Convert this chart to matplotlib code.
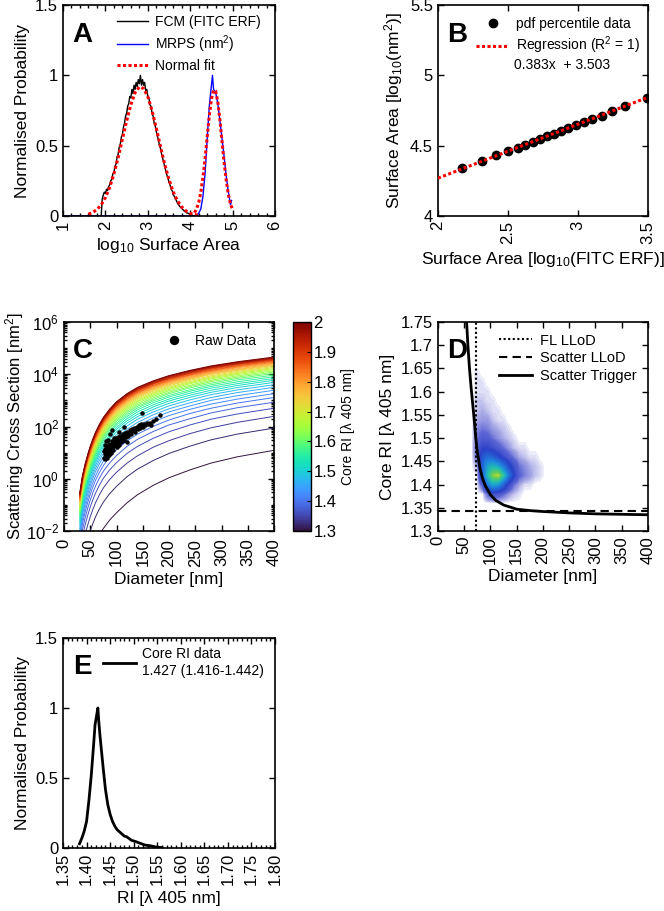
import numpy as np
import matplotlib
matplotlib.use('Agg')
from matplotlib import pyplot as plt
from matplotlib import colors, ticker

plt.rcParams['font.family'] = ['Liberation Sans', 'DejaVu Sans']
plt.rcParams['mathtext.fontset'] = 'custom'
plt.rcParams['mathtext.rm'] = 'Liberation Sans'
plt.rcParams['mathtext.it'] = 'Liberation Sans:italic'
plt.rcParams['mathtext.bf'] = 'Liberation Sans:bold'
plt.rcParams['mathtext.default'] = 'regular'

# ---- panel A : surface area histograms ----
fcm_x = [1.0, 1.9, 1.925, 1.95, 1.975, 2.0, 2.025, 2.05, 2.075, 2.1, 2.125, 2.15, 2.175, 2.2, 2.225,
         2.25, 2.275, 2.3, 2.325, 2.35, 2.375, 2.4, 2.425, 2.45, 2.475, 2.5, 2.525, 2.55, 2.575, 2.6,
         2.625, 2.65, 2.675, 2.7, 2.725, 2.75, 2.775, 2.8, 2.825, 2.85, 2.875, 2.9, 2.925, 2.95, 2.975,
         3.0, 3.025, 3.05, 3.075, 3.1, 3.125, 3.15, 3.175, 3.2, 3.225, 3.25, 3.275, 3.3, 3.325, 3.35,
         3.375, 3.4, 3.425, 3.45, 3.475, 3.5, 3.525, 3.55, 3.575, 3.6, 3.625, 3.65, 3.675, 3.7, 3.725,
         3.75, 3.775, 3.8, 3.825, 3.85, 3.875, 3.9, 3.925, 3.95, 3.975, 4.0, 4.025, 4.05, 4.075, 4.1]
fcm_y = [0.0, 0.0, 0.12, 0.15, 0.17, 0.16, 0.19, 0.18, 0.21, 0.22, 0.25, 0.26, 0.30, 0.31, 0.35,
         0.37, 0.42, 0.44, 0.49, 0.51, 0.56, 0.58, 0.63, 0.66, 0.71, 0.73, 0.78, 0.80, 0.85, 0.84,
         0.90, 0.87, 0.93, 0.90, 0.95, 0.92, 0.97, 0.94, 1.00, 0.93, 0.97, 0.93, 0.95, 0.89, 0.90,
         0.85, 0.84, 0.79, 0.78, 0.73, 0.71, 0.66, 0.64, 0.60, 0.57, 0.54, 0.50, 0.48, 0.44, 0.41,
         0.38, 0.35, 0.32, 0.29, 0.27, 0.24, 0.22, 0.19, 0.18, 0.15, 0.14, 0.12, 0.11, 0.09, 0.08,
         0.07, 0.06, 0.055, 0.045, 0.04, 0.03, 0.03, 0.02, 0.02, 0.015, 0.01, 0.008, 0.005, 0.0, 0.0]
mrps_x = [1.0, 4.15, 4.2, 4.25, 4.3, 4.35, 4.4, 4.45, 4.5, 4.525, 4.55, 4.6, 4.65, 4.7, 4.75, 4.8,
          4.85, 4.9, 4.95, 4.975]
mrps_y = [0.0, 0.0, 0.02, 0.05, 0.14, 0.30, 0.55, 0.78, 0.93, 1.0, 0.90, 0.88, 0.80, 0.68, 0.55,
          0.42, 0.28, 0.17, 0.08, 0.11]
fit1_x = [1.6, 1.7, 1.8, 1.9, 2.0, 2.1, 2.2, 2.3, 2.4, 2.5, 2.6, 2.7, 2.8, 2.9, 3.0, 3.1, 3.2,
          3.3, 3.4, 3.5, 3.6, 3.7, 3.8, 3.9, 4.0, 4.1, 4.2]
fit1_y = [0.013, 0.025, 0.046, 0.079, 0.131, 0.203, 0.299, 0.415, 0.545, 0.676, 0.792, 0.877,
          0.918, 0.907, 0.848, 0.748, 0.624, 0.492, 0.366, 0.258, 0.171, 0.108, 0.064, 0.036,
          0.019, 0.010, 0.005]
fit2_x = [4.1, 4.15, 4.2, 4.25, 4.3, 4.35, 4.4, 4.45, 4.5, 4.55, 4.6, 4.65, 4.7, 4.75, 4.8, 4.85,
          4.9, 4.95, 5.0]
fit2_y = [0.024, 0.050, 0.096, 0.169, 0.274, 0.408, 0.561, 0.711, 0.831, 0.894, 0.887, 0.811,
          0.683, 0.530, 0.379, 0.250, 0.152, 0.085, 0.044]

# ---- panel B : percentile regression ----
pct_x = [2.174, 2.316, 2.411, 2.499, 2.568, 2.625, 2.677, 2.730, 2.780, 2.827, 2.880, 2.930,
         2.985, 3.042, 3.101, 3.168, 3.243, 3.338, 3.493]
pct_y = [4.339, 4.393, 4.431, 4.462, 4.486, 4.507, 4.528, 4.547, 4.566, 4.583, 4.604, 4.626,
         4.647, 4.668, 4.690, 4.713, 4.746, 4.782, 4.836]
reg_x = [2.0, 3.5]
reg_y = [4.269, 4.844]

# ---- panel C : scattering cross section model (log10 nm^2), one row per core RI ----
curve_diam = [30, 35, 40, 45, 50, 55, 60, 67, 75, 87, 100, 120, 140, 170, 200, 240, 280, 330, 400]
curve_ri = [1.30, 1.32, 1.34, 1.36, 1.38, 1.40, 1.42, 1.44, 1.46, 1.48, 1.50, 1.52, 1.54, 1.56,
            1.58, 1.60, 1.62, 1.64, 1.66, 1.68, 1.70, 1.72, 1.74, 1.76, 1.78, 1.80, 1.82, 1.84,
            1.86, 1.88, 1.90, 1.92, 1.94, 1.96, 1.98, 2.00]
curve_log_sigma = [
    [-4.80, -4.15, -3.70, -3.33, -3.00, -2.72, -2.47, -2.18, -1.90, -1.58, -1.30, -0.92, -0.61, -0.25, 0.04, 0.34, 0.60, 0.84, 1.09],
    [-3.79, -3.14, -2.69, -2.32, -1.99, -1.71, -1.46, -1.17, -0.89, -0.57, -0.29, 0.08, 0.37, 0.70, 0.97, 1.25, 1.49, 1.71, 1.94],
    [-3.25, -2.60, -2.15, -1.78, -1.45, -1.17, -0.92, -0.63, -0.35, -0.03, 0.25, 0.60, 0.88, 1.21, 1.46, 1.73, 1.95, 2.16, 2.39],
    [-2.88, -2.23, -1.78, -1.41, -1.08, -0.80, -0.55, -0.26, 0.02, 0.34, 0.62, 0.97, 1.24, 1.55, 1.80, 2.06, 2.28, 2.48, 2.70],
    [-2.61, -1.96, -1.51, -1.14, -0.81, -0.53, -0.28, 0.01, 0.29, 0.61, 0.89, 1.24, 1.51, 1.81, 2.06, 2.30, 2.52, 2.72, 2.93],
    [-2.39, -1.74, -1.29, -0.92, -0.59, -0.31, -0.06, 0.23, 0.51, 0.83, 1.11, 1.45, 1.71, 2.01, 2.25, 2.50, 2.70, 2.90, 3.11],
    [-2.22, -1.57, -1.12, -0.75, -0.42, -0.14, 0.11, 0.40, 0.68, 1.00, 1.28, 1.62, 1.89, 2.18, 2.42, 2.66, 2.86, 3.05, 3.26],
    [-2.06, -1.41, -0.96, -0.59, -0.26, 0.02, 0.27, 0.56, 0.84, 1.16, 1.44, 1.77, 2.04, 2.33, 2.56, 2.79, 3.00, 3.18, 3.39],
    [-1.93, -1.28, -0.83, -0.46, -0.13, 0.15, 0.40, 0.69, 0.97, 1.29, 1.57, 1.90, 2.16, 2.45, 2.68, 2.91, 3.11, 3.30, 3.50],
    [-1.81, -1.16, -0.71, -0.34, -0.01, 0.27, 0.52, 0.81, 1.09, 1.41, 1.69, 2.02, 2.28, 2.56, 2.79, 3.02, 3.22, 3.40, 3.60],
    [-1.70, -1.05, -0.60, -0.23, 0.10, 0.38, 0.63, 0.92, 1.20, 1.52, 1.80, 2.13, 2.38, 2.66, 2.89, 3.12, 3.31, 3.49, 3.69],
    [-1.61, -0.96, -0.51, -0.14, 0.19, 0.47, 0.72, 1.01, 1.29, 1.61, 1.89, 2.22, 2.47, 2.75, 2.98, 3.20, 3.39, 3.57, 3.77],
    [-1.53, -0.88, -0.43, -0.06, 0.27, 0.55, 0.80, 1.09, 1.37, 1.69, 1.97, 2.30, 2.56, 2.83, 3.05, 3.28, 3.47, 3.64, 3.84],
    [-1.44, -0.79, -0.34, 0.03, 0.36, 0.64, 0.89, 1.18, 1.46, 1.78, 2.06, 2.38, 2.64, 2.91, 3.13, 3.35, 3.54, 3.71, 3.91],
    [-1.37, -0.72, -0.27, 0.10, 0.43, 0.71, 0.96, 1.25, 1.53, 1.85, 2.13, 2.45, 2.71, 2.98, 3.19, 3.41, 3.60, 3.78, 3.97],
    [-1.30, -0.65, -0.20, 0.17, 0.50, 0.78, 1.03, 1.32, 1.60, 1.92, 2.20, 2.52, 2.77, 3.04, 3.26, 3.48, 3.66, 3.84, 4.03],
    [-1.24, -0.59, -0.14, 0.23, 0.56, 0.84, 1.09, 1.38, 1.66, 1.98, 2.26, 2.58, 2.83, 3.10, 3.31, 3.53, 3.72, 3.89, 4.08],
    [-1.18, -0.53, -0.08, 0.29, 0.62, 0.90, 1.15, 1.44, 1.72, 2.04, 2.32, 2.64, 2.89, 3.16, 3.37, 3.58, 3.77, 3.94, 4.13],
    [-1.12, -0.47, -0.02, 0.35, 0.68, 0.96, 1.21, 1.50, 1.78, 2.10, 2.38, 2.70, 2.95, 3.21, 3.42, 3.64, 3.82, 3.99, 4.18],
    [-1.07, -0.42, 0.03, 0.40, 0.73, 1.01, 1.26, 1.55, 1.83, 2.15, 2.43, 2.75, 2.99, 3.26, 3.47, 3.68, 3.86, 4.03, 4.22],
    [-1.03, -0.38, 0.07, 0.44, 0.77, 1.05, 1.30, 1.59, 1.87, 2.19, 2.47, 2.79, 3.04, 3.30, 3.51, 3.72, 3.90, 4.07, 4.26],
    [-0.98, -0.33, 0.12, 0.49, 0.82, 1.10, 1.35, 1.64, 1.92, 2.24, 2.52, 2.84, 3.09, 3.35, 3.56, 3.77, 3.94, 4.11, 4.30],
    [-0.93, -0.28, 0.17, 0.54, 0.87, 1.15, 1.40, 1.69, 1.97, 2.29, 2.57, 2.89, 3.13, 3.39, 3.60, 3.81, 3.99, 4.15, 4.34],
    [-0.90, -0.25, 0.20, 0.57, 0.90, 1.18, 1.43, 1.72, 2.00, 2.32, 2.60, 2.92, 3.17, 3.43, 3.63, 3.84, 4.02, 4.18, 4.37],
    [-0.86, -0.21, 0.24, 0.61, 0.94, 1.22, 1.47, 1.76, 2.04, 2.36, 2.64, 2.96, 3.20, 3.46, 3.67, 3.87, 4.05, 4.21, 4.40],
    [-0.82, -0.17, 0.28, 0.65, 0.98, 1.26, 1.51, 1.80, 2.08, 2.40, 2.68, 2.99, 3.24, 3.49, 3.70, 3.90, 4.08, 4.25, 4.43],
    [-0.79, -0.14, 0.31, 0.68, 1.01, 1.29, 1.54, 1.83, 2.11, 2.43, 2.71, 3.03, 3.27, 3.53, 3.73, 3.94, 4.11, 4.28, 4.46],
    [-0.75, -0.10, 0.35, 0.72, 1.05, 1.33, 1.58, 1.87, 2.15, 2.47, 2.75, 3.06, 3.30, 3.56, 3.76, 3.97, 4.14, 4.31, 4.49],
    [-0.73, -0.08, 0.37, 0.74, 1.07, 1.35, 1.60, 1.89, 2.17, 2.49, 2.77, 3.08, 3.33, 3.58, 3.79, 3.99, 4.16, 4.33, 4.51],
    [-0.69, -0.04, 0.41, 0.78, 1.11, 1.39, 1.64, 1.93, 2.21, 2.53, 2.81, 3.12, 3.36, 3.62, 3.82, 4.02, 4.19, 4.36, 4.54],
    [-0.67, -0.02, 0.43, 0.80, 1.13, 1.41, 1.66, 1.95, 2.23, 2.55, 2.83, 3.14, 3.38, 3.64, 3.84, 4.04, 4.22, 4.38, 4.56],
    [-0.65, 0.00, 0.45, 0.82, 1.15, 1.43, 1.68, 1.97, 2.25, 2.57, 2.85, 3.17, 3.41, 3.66, 3.86, 4.06, 4.24, 4.40, 4.58],
    [-0.62, 0.03, 0.48, 0.85, 1.18, 1.46, 1.71, 2.00, 2.28, 2.60, 2.88, 3.19, 3.43, 3.68, 3.88, 4.09, 4.26, 4.42, 4.60],
    [-0.60, 0.05, 0.50, 0.87, 1.20, 1.48, 1.73, 2.02, 2.30, 2.62, 2.90, 3.21, 3.45, 3.71, 3.91, 4.11, 4.28, 4.44, 4.62],
    [-0.57, 0.08, 0.53, 0.90, 1.23, 1.51, 1.76, 2.05, 2.33, 2.65, 2.93, 3.24, 3.48, 3.73, 3.93, 4.13, 4.30, 4.46, 4.64],
    [-0.55, 0.10, 0.55, 0.92, 1.25, 1.53, 1.78, 2.07, 2.35, 2.67, 2.95, 3.26, 3.50, 3.75, 3.95, 4.15, 4.32, 4.48, 4.66],
]
raw_diam = [76, 77, 78, 78, 79, 79, 80, 80, 81, 82, 82, 83, 84, 84, 85, 86, 86, 87, 88, 88,
            89, 90, 90, 91, 92, 93, 94, 95, 95, 96, 97, 98, 99, 100, 100, 101, 102, 103, 104, 105,
            106, 107, 108, 109, 110, 111, 112, 113, 114, 115, 116, 118, 119, 120, 122, 124, 125,
            127, 128, 130, 132, 134, 135, 137, 139, 140, 142, 145, 147, 150, 152, 155, 158, 160,
            163, 165, 170, 175, 183, 149, 92, 104, 120, 115]
raw_log_sigma = [1.05, 0.80, 0.95, 1.30, 0.75, 1.15, 0.90, 1.45, 1.05, 0.80, 1.25, 1.10, 0.95,
                 1.50, 1.20, 0.90, 1.35, 1.10, 1.25, 1.70, 1.00, 1.30, 1.15, 1.45, 1.20, 1.35,
                 1.10, 1.40, 1.55, 1.25, 1.45, 1.30, 1.55, 1.35, 1.20, 1.50, 1.40, 1.60, 1.30,
                 1.50, 1.45, 1.65, 1.40, 1.55, 1.60, 1.45, 1.70, 1.55, 1.65, 1.50, 1.75, 1.60,
                 1.70, 1.80, 1.65, 1.75, 1.85, 1.80, 1.70, 1.90, 1.85, 1.95, 1.80, 1.95, 2.00,
                 1.90, 2.05, 1.95, 2.10, 2.00, 2.10, 2.05, 2.15, 2.10, 2.15, 2.05, 2.20, 2.30,
                 2.45, 2.50, 1.85, 1.80, 1.40, 2.00]

# ---- panel D : RI vs diameter density (cells 10 nm x 0.02 RI) ----
dens_extent = [60, 220, 1.35, 1.67]
dens_grid = [
    [0, 0, 0, 0, 0, 0, 0, 0, 0, 0, 0, 0, 0, 0, 0, 0],
    [0, 0, 0, 8, 14, 12, 8, 4, 2, 1, 0, 0, 0, 0, 0, 0],
    [0, 0, 10, 40, 55, 50, 32, 16, 7, 3, 1, 1, 0, 0, 0, 0],
    [0, 0, 30, 65, 92, 100, 70, 40, 20, 9, 6, 4, 2, 1, 0, 0],
    [0, 3, 32, 55, 62, 55, 40, 25, 14, 7, 5, 3, 2, 1, 0, 0],
    [0, 8, 28, 35, 32, 24, 16, 10, 6, 3, 2, 1, 1, 0, 0, 0],
    [0, 9, 18, 18, 14, 10, 7, 4, 2, 1, 1, 0, 0, 0, 0, 0],
    [0, 7, 11, 10, 7, 5, 3, 2, 1, 0, 0, 0, 0, 0, 0, 0],
    [0, 5, 7, 6, 4, 3, 2, 1, 0, 0, 0, 0, 0, 0, 0, 0],
    [0, 3, 4, 4, 2, 1, 1, 0, 0, 0, 0, 0, 0, 0, 0, 0],
    [0, 2, 3, 2, 1, 1, 0, 0, 0, 0, 0, 0, 0, 0, 0, 0],
    [0, 2, 2, 1, 1, 0, 0, 0, 0, 0, 0, 0, 0, 0, 0, 0],
    [0, 1, 1, 1, 0, 0, 0, 0, 0, 0, 0, 0, 0, 0, 0, 0],
    [0, 1, 1, 0, 0, 0, 0, 0, 0, 0, 0, 0, 0, 0, 0, 0],
    [0, 1, 0, 0, 0, 0, 0, 0, 0, 0, 0, 0, 0, 0, 0, 0],
    [0, 0, 0, 0, 0, 0, 0, 0, 0, 0, 0, 0, 0, 0, 0, 0],
]
trig_d = [54, 57, 60, 63, 66, 69, 72, 75, 80, 85, 90, 100, 110, 125, 150, 175, 200, 250, 300,
          350, 400]
trig_ri = [1.76, 1.70, 1.65, 1.61, 1.575, 1.54, 1.50, 1.47, 1.435, 1.413, 1.398, 1.378, 1.366,
           1.356, 1.347, 1.344, 1.342, 1.339, 1.337, 1.336, 1.335]
fl_llod = 72
scatter_llod = 1.343

# ---- panel E : core RI distribution ----
ri_x = [1.385, 1.39, 1.395, 1.40, 1.405, 1.41, 1.415, 1.418, 1.42, 1.422, 1.424, 1.426, 1.428,
        1.43, 1.435, 1.44, 1.445, 1.45, 1.455, 1.46, 1.465, 1.47, 1.475, 1.48, 1.485, 1.49, 1.495,
        1.50, 1.505, 1.51, 1.515, 1.52, 1.525, 1.53, 1.535, 1.54, 1.545, 1.55, 1.555, 1.56]
ri_y = [0.03, 0.07, 0.12, 0.19, 0.34, 0.52, 0.74, 0.88, 0.92, 0.96, 1.00, 0.90, 0.82, 0.75,
        0.58, 0.42, 0.31, 0.24, 0.19, 0.155, 0.13, 0.115, 0.10, 0.085, 0.08, 0.068, 0.055, 0.05,
        0.045, 0.038, 0.032, 0.025, 0.02, 0.018, 0.016, 0.012, 0.008, 0.006, 0.004, 0.003]


def style_axes(ax):
    ax.tick_params(which='both', direction='in', top=True, right=True, width=1)
    ax.tick_params(which='major', length=4, labelsize=12)
    ax.tick_params(which='minor', length=2)
    ax.tick_params(axis='x', labelrotation=90)
    for s in ax.spines.values():
        s.set_linewidth(1.2)


def panel_letter(ax, x, y, letter):
    ax.text(x, y, letter, transform=ax.transAxes, fontsize=20, fontweight='bold',
            va='baseline', ha='left')


def leg(ax, x, y, **kw):
    opts = dict(frameon=False, fontsize=10, borderpad=0, borderaxespad=0, handlelength=2.2,
                handletextpad=0.5, labelspacing=0.3, loc='upper left', bbox_to_anchor=(x, y))
    opts.update(kw)
    return ax.legend(**opts)


fig = plt.figure(figsize=(6.64, 9.11), dpi=100)
label_fs = 12.5
red_dots = (0, (1, 0.8))

# A
ax = fig.add_axes([0.0949, 0.7629, 0.3193, 0.2316])
ax.plot(fcm_x, fcm_y, color='black', lw=1, label='FCM (FITC ERF)')
ax.plot(mrps_x, mrps_y, color='blue', lw=1, label='MRPS (nm$^2$)')
ax.plot(fit1_x, fit1_y, color='red', lw=2.2, ls=red_dots, label='Normal fit')
ax.plot(fit2_x, fit2_y, color='red', lw=2.2, ls=red_dots)
ax.set_xlim(1, 6)
ax.set_ylim(0, 1.5)
ax.set_xticks([1, 2, 3, 4, 5, 6])
ax.set_yticks([0, 0.5, 1, 1.5])
ax.yaxis.set_major_formatter(ticker.FormatStrFormatter('%g'))
ax.xaxis.set_minor_locator(ticker.MultipleLocator(0.2))
ax.set_xlabel('log$_{10}$ Surface Area', fontsize=label_fs)
ax.set_ylabel('Normalised Probability', fontsize=label_fs)
style_axes(ax)
panel_letter(ax, 0.042, 0.825, 'A')
leg(ax, 0.255, 0.953)

# B
ax = fig.add_axes([0.6596, 0.7629, 0.3163, 0.2316])
ax.plot(pct_x, pct_y, 'o', color='black', ms=6, ls='none', label='pdf percentile data')
ax.plot(reg_x, reg_y, color='red', lw=2.2, ls=red_dots, label='Regression (R$^2$ = 1)', zorder=3)
ax.text(0.362, 0.716, '0.383x  + 3.503', transform=ax.transAxes, fontsize=10, va='center')
ax.set_xlim(2, 3.5)
ax.set_ylim(4, 5.5)
ax.set_xticks([2, 2.5, 3, 3.5])
ax.set_yticks([4, 4.5, 5, 5.5])
ax.xaxis.set_major_formatter(ticker.FormatStrFormatter('%g'))
ax.yaxis.set_major_formatter(ticker.FormatStrFormatter('%g'))
ax.set_xlabel('Surface Area [log$_{10}$(FITC ERF)]', fontsize=label_fs)
ax.set_ylabel('Surface Area [log$_{10}$(nm$^2$)]', fontsize=label_fs)
style_axes(ax)
panel_letter(ax, 0.043, 0.825, 'B')
leg(ax, 0.181, 0.945, handlelength=2.4)

# C
ax = fig.add_axes([0.0964, 0.4171, 0.3163, 0.2294])
cmap = plt.get_cmap('turbo')
norm = colors.Normalize(1.3, 2.0)
for ri, row in zip(curve_ri, curve_log_sigma):
    ax.plot(curve_diam, 10 ** np.array(row), color=cmap(norm(ri)), lw=0.7)
ax.plot(raw_diam, 10 ** np.array(raw_log_sigma), 'o', color='black', ms=2.2, ls='none',
        label='Raw Data', zorder=5)
ax.set_yscale('log')
ax.set_xlim(0, 400)
ax.set_ylim(1e-2, 1e6)
ax.set_xticks(range(0, 401, 50))
ax.yaxis.set_major_locator(ticker.FixedLocator([1e-2, 1e0, 1e2, 1e4, 1e6]))
ax.yaxis.set_major_formatter(ticker.LogFormatterMathtext())
ax.yaxis.set_minor_locator(ticker.LogLocator(base=10, subs=np.arange(1, 10), numticks=20))
ax.yaxis.set_minor_formatter(ticker.NullFormatter())
ax.set_xlabel('Diameter [nm]', fontsize=label_fs)
ax.set_ylabel('Scattering Cross Section [nm$^2$]', fontsize=12, labelpad=0)
style_axes(ax)
ax.tick_params(axis='y', pad=3.5)
ax.tick_params(axis='x', pad=5.5)
panel_letter(ax, 0.043, 0.828, 'C')
leg(ax, 0.457, 0.943, markerscale=2.6, handlelength=2.0)

cax = fig.add_axes([0.4413, 0.4171, 0.0265, 0.2294])
sm = plt.cm.ScalarMappable(norm=norm, cmap=cmap)
cb = fig.colorbar(sm, cax=cax, ticks=[1.3, 1.4, 1.5, 1.6, 1.7, 1.8, 1.9, 2.0])
cb.ax.yaxis.set_major_formatter(ticker.FormatStrFormatter('%g'))
cb.ax.tick_params(labelsize=12, direction='in', length=3, pad=2)
cb.outline.set_linewidth(1)
cb.set_label('Core RI [λ 405 nm]', fontsize=10, labelpad=3)

# D
ax = fig.add_axes([0.6596, 0.4171, 0.3163, 0.2294])
dens_cmap = colors.LinearSegmentedColormap.from_list(
    'dens', [(0.0, 'white'), (0.006, '#e4e4f8'), (0.03, '#a8a8e6'), (0.08, '#5a64d4'),
             (0.2, '#2a40c8'), (0.45, '#1e88e0'), (0.65, '#22bfb0'), (0.85, '#62cc5c'),
             (1.0, '#bcdc30')])
ax.imshow(np.array(dens_grid), extent=dens_extent, origin='lower', aspect='auto',
          cmap=dens_cmap, vmin=0, vmax=100, interpolation='bilinear', zorder=1)
ax.axvline(fl_llod, color='black', lw=1.5, ls=(0, (1, 1.2)), label='FL LLoD', zorder=3)
ax.axhline(scatter_llod, color='black', lw=1.5, ls=(0, (4, 2.5)), label='Scatter LLoD', zorder=3)
ax.plot(trig_d, trig_ri, color='black', lw=2, label='Scatter Trigger', zorder=4)
ax.set_xlim(0, 400)
ax.set_ylim(1.3, 1.75)
ax.set_xticks(range(0, 401, 50))
ax.set_yticks([1.3, 1.35, 1.4, 1.45, 1.5, 1.55, 1.6, 1.65, 1.7, 1.75])
ax.yaxis.set_major_formatter(ticker.FormatStrFormatter('%g'))
ax.set_xlabel('Diameter [nm]', fontsize=label_fs)
ax.set_ylabel('Core RI [λ 405 nm]', fontsize=label_fs)
style_axes(ax)
panel_letter(ax, 0.043, 0.828, 'D')
leg(ax, 0.29, 0.945, handlelength=2.3, labelspacing=0.25, fontsize=10.5)

# E
ax = fig.add_axes([0.0949, 0.0692, 0.3193, 0.2305])
ax.plot(ri_x, ri_y, color='black', lw=2, label='Core RI data\n1.427 (1.416-1.442)')
ax.set_xlim(1.35, 1.80)
ax.set_ylim(0, 1.5)
ax.set_xticks(np.round(np.arange(1.35, 1.801, 0.05), 2))
ax.xaxis.set_major_formatter(ticker.FormatStrFormatter('%.2f'))
ax.xaxis.set_minor_locator(ticker.MultipleLocator(0.01))
ax.set_yticks([0, 0.5, 1, 1.5])
ax.yaxis.set_major_formatter(ticker.FormatStrFormatter('%g'))
ax.set_xlabel('RI [λ 405 nm]', fontsize=label_fs)
ax.set_ylabel('Normalised Probability', fontsize=label_fs)
style_axes(ax)
panel_letter(ax, 0.047, 0.829, 'E')
leg(ax, 0.189, 0.955, handlelength=2.4, handletextpad=0.4)

fig.savefig('out.png', dpi=100)
